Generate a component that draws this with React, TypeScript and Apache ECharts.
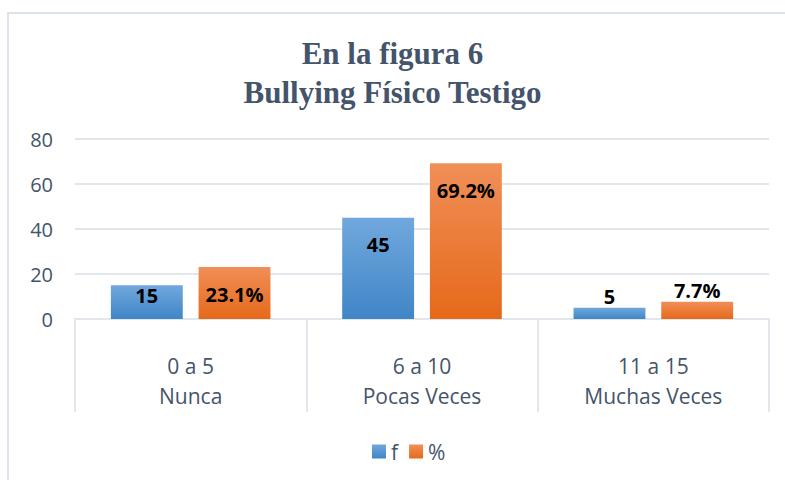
import React, { useEffect, useRef } from "react";
import * as echarts from "echarts";

const ranges = ["0 a 5", "6 a 10", "11 a 15"];
const groups = ["Nunca", "Pocas Veces", "Muchas Veces"];
const freq = [15, 45, 5];
const pct = [23.1, 69.2, 7.7];
const titleLines = ["En la figura 6", "Bullying Físico Testigo"];

const TEXT = "#44546a";
const LINE = "#e2e7ee";

function labelFor(v: number) {
  if (v >= 20) return { position: "insideTop", distance: 17 };
  if (v >= 10) return { position: "insideTop", distance: 0 };
  return { position: "top", distance: 1 };
}

export default function App() {
  const ref = useRef<HTMLDivElement>(null);
  useEffect(() => {
    if (!ref.current) return;
    const chart = echarts.init(ref.current, undefined, { renderer: "svg" });
    const cats = ranges.map((r, i) => r + "\n" + groups[i]);
    const blue = {
      type: "linear", x: 0, y: 0, x2: 0, y2: 1,
      colorStops: [{ offset: 0, color: "#71a8dd" }, { offset: 1, color: "#3f86c7" }],
    };
    const orange = {
      type: "linear", x: 0, y: 0, x2: 0, y2: 1,
      colorStops: [{ offset: 0, color: "#f08f58" }, { offset: 1, color: "#e6691a" }],
    };
    const labelBase = {
      show: true,
      color: "#000",
      fontFamily: "Open Sans",
      fontWeight: "bold",
      fontSize: 20,
    };
    chart.setOption({
      animation: false,
      backgroundColor: "#fff",
      title: {
        text: titleLines.join("\n"),
        left: "center",
        top: 29,
        textStyle: {
          fontFamily: "Liberation Serif",
          fontWeight: "bold",
          fontSize: 31,
          lineHeight: 39,
          color: TEXT,
        },
      },
      graphic: [
        {
          type: "rect",
          shape: { x: 8, y: 13, width: 800, height: 500 },
          style: { fill: "none", stroke: "#dde3ea", lineWidth: 2 },
          silent: true,
        },
      ],
      legend: {
        top: 436,
        left: 367,
        itemWidth: 14,
        itemHeight: 14,
        itemGap: 11,
        icon: "rect",
        textStyle: { fontFamily: "Open Sans", fontSize: 21, color: TEXT },
        data: ["f", "%"],
      },
      grid: { left: 75, right: 16, top: 139, bottom: 161, containLabel: false },
      xAxis: {
        type: "category",
        data: cats,
        axisLine: { lineStyle: { color: LINE, width: 2 } },
        axisTick: { show: true, interval: 0, length: 93, lineStyle: { color: LINE, width: 2 } },
        axisLabel: {
          interval: 0,
          margin: 32,
          fontFamily: "Open Sans",
          fontSize: 21,
          lineHeight: 30,
          color: TEXT,
        },
      },
      yAxis: {
        type: "value",
        min: 0,
        max: 80,
        interval: 20,
        axisLine: { show: false },
        axisTick: { show: false },
        splitLine: { lineStyle: { color: LINE, width: 2 } },
        axisLabel: { margin: 22, fontFamily: "Open Sans", fontSize: 20, color: TEXT },
      },
      series: [
        {
          name: "f",
          type: "bar",
          barCategoryGap: "31%",
          barGap: "22%",
          itemStyle: { color: blue },
          data: freq.map((v) => ({ value: v, label: { ...labelBase, ...labelFor(v) } })),
        },
        {
          name: "%",
          type: "bar",
          itemStyle: { color: orange },
          data: pct.map((v) => ({
            value: v,
            label: { ...labelBase, ...labelFor(v), formatter: "{c}%" },
          })),
        },
      ],
    });
    return () => chart.dispose();
  }, []);
  return (
    <div
      ref={ref}
      style={{ position: "fixed", left: 0, top: 0, width: 785, height: 480 }}
    />
  );
}
